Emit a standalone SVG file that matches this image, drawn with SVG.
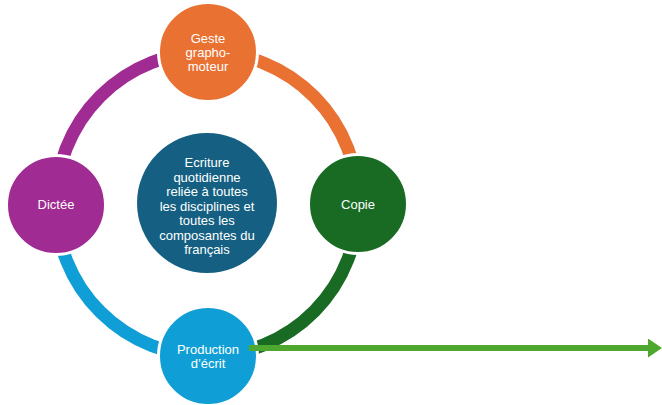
<svg xmlns="http://www.w3.org/2000/svg" width="662" height="405" viewBox="0 0 662 405">
  <style>
    .arc { fill: none; stroke-width: 13; stroke-linecap: butt; }
    .node { stroke: #ffffff; stroke-width: 3; }
    .lbl { font-family: "Liberation Sans", Arial, sans-serif; font-size: 13px; fill: #ffffff; text-anchor: middle; }
  </style>
  <defs>
    <marker id="head" viewBox="0 0 14 19" refX="0" refY="9.5" markerWidth="14" markerHeight="19" markerUnits="userSpaceOnUse" orient="auto">
      <path d="M0,0 L14,9.5 L0,19 Z" fill="#4EA72E"/>
    </marker>
  </defs>
  <rect width="662" height="405" fill="#ffffff"/>
  <g id="connectors">
    <path class="arc" stroke="#E97132" d="M208,52 A151,151 0 0 1 358,204"/>
    <path class="arc" stroke="#196B24" d="M358,204 A151,151 0 0 1 208,356"/>
    <path class="arc" stroke="#0F9ED5" d="M208,356 A151,151 0 0 1 56,205"/>
    <path class="arc" stroke="#A02B93" d="M56,205 A151,151 0 0 1 208,52"/>
  </g>
  <g id="geste">
    <circle class="node" cx="208" cy="52" r="49.5" fill="#E97132"/>
    <text class="lbl" x="208" y="43">Geste</text>
    <text class="lbl" x="208" y="57">grapho-</text>
    <text class="lbl" x="208" y="71">moteur</text>
  </g>
  <g id="copie">
    <circle class="node" cx="358" cy="204" r="49.5" fill="#196B24"/>
    <text class="lbl" x="358" y="209">Copie</text>
  </g>
  <g id="production">
    <circle class="node" cx="208" cy="356" r="49.5" fill="#0F9ED5"/>
    <text class="lbl" x="208" y="354">Production</text>
    <text class="lbl" x="208" y="368">d’écrit</text>
  </g>
  <g id="dictee">
    <circle class="node" cx="56" cy="205" r="49.5" fill="#A02B93"/>
    <text class="lbl" x="56" y="209">Dictée</text>
  </g>
  <g id="centre">
    <circle cx="207" cy="203" r="70" fill="#156082"/>
    <text class="lbl" x="207" y="167">Ecriture</text>
    <text class="lbl" x="207" y="181.5">quotidienne</text>
    <text class="lbl" x="207" y="196">reliée à toutes</text>
    <text class="lbl" x="207" y="210.5">les disciplines et</text>
    <text class="lbl" x="207" y="225">toutes les</text>
    <text class="lbl" x="207" y="239.5">composantes du</text>
    <text class="lbl" x="207" y="254">français</text>
  </g>
  <g id="arrow">
    <line x1="249" y1="348" x2="648" y2="348" stroke="#4EA72E" stroke-width="6" marker-end="url(#head)"/>
  </g>
</svg>
